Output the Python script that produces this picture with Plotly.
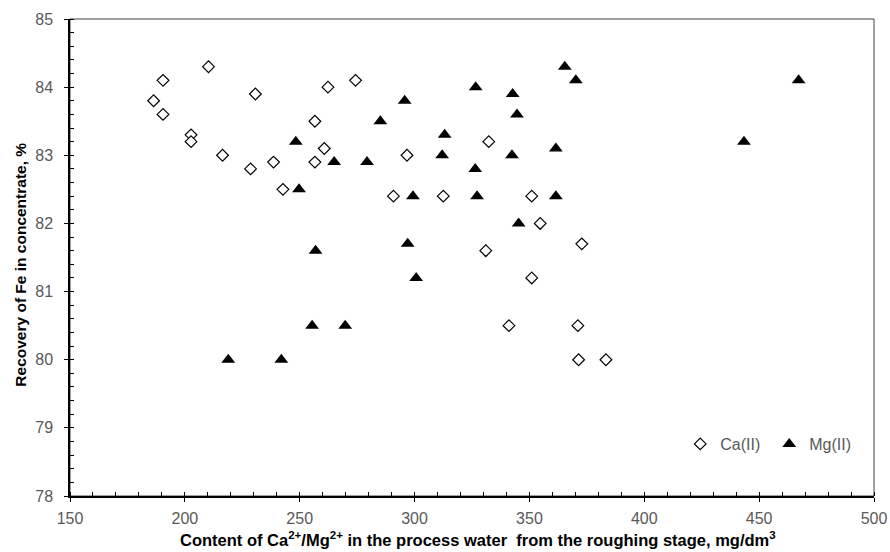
import plotly.graph_objects as go

# Ca(II) series
ca_x = [186.4, 190.5, 190.5, 202.7, 202.7, 210.3, 216.4, 228.6, 230.7, 238.6,
        242.7, 256.6, 256.6, 260.7, 262.3, 274.3, 290.8, 296.7, 312.5, 331.0,
        332.3, 341.1, 351.0, 351.0, 354.7, 371.1, 371.4, 372.8, 383.3]
ca_y = [83.8, 84.1, 83.6, 83.3, 83.2, 84.3, 83.0, 82.8, 83.9, 82.9,
        82.5, 83.5, 82.9, 83.1, 84.0, 84.1, 82.4, 83.0, 82.4, 81.6,
        83.2, 80.5, 82.4, 81.2, 82.0, 80.5, 80.0, 81.7, 80.0]

# Mg(II) series
mg_x = [218.9, 242.0, 248.3, 249.7, 255.4, 256.9, 265.0, 269.8, 279.3, 285.1,
        295.7, 297.0, 299.3, 300.7, 312.0, 313.1, 326.4, 326.6, 327.2, 342.4,
        342.7, 344.6, 345.3, 361.5, 361.5, 365.4, 370.2, 443.4, 467.2]
mg_y = [80.0, 80.0, 83.2, 82.5, 80.5, 81.6, 82.9, 80.5, 82.9, 83.5,
        83.8, 81.7, 82.4, 81.2, 83.0, 83.3, 82.8, 84.0, 82.4, 83.0,
        83.9, 83.6, 82.0, 83.1, 82.4, 84.3, 84.1, 83.2, 84.1]

x_title = "Content of Ca<sup>2+</sup>/Mg<sup>2+</sup> in the process water  from the roughing stage, mg/dm<sup>3</sup>"
y_title = "Recovery of Fe in concentrate, %"

FONT = "Liberation Sans, Arial, sans-serif"
GRAY = "#595959"

fig = go.Figure()
fig.add_trace(go.Scatter(
    x=ca_x, y=ca_y, mode="markers", name="Ca(II)",
    marker=dict(symbol="diamond", size=9, color="white",
                line=dict(color="black", width=1.2)),
))
fig.add_trace(go.Scatter(
    x=mg_x, y=mg_y, mode="markers", name="Mg(II)",
    marker=dict(symbol="triangle-up", size=12, color="black",
                line=dict(color="black", width=0)),
))

fig.update_layout(
    width=890, height=552,
    margin=dict(l=70, r=16, t=19, b=56),
    paper_bgcolor="white", plot_bgcolor="white",
    font=dict(family=FONT, color=GRAY, size=16),
    showlegend=True,
    legend=dict(orientation="h", x=0.759, y=0.109, xanchor="left", yanchor="middle",
                font=dict(family=FONT, size=16, color=GRAY),
                bgcolor="rgba(0,0,0,0)", entrywidth=44, itemwidth=30,
                tracegroupgap=0),
    xaxis=dict(range=[150, 500], tickmode="linear", tick0=150, dtick=50,
               ticks="outside", ticklen=4, tickwidth=1, tickcolor="black",
               minor=dict(ticks="inside", ticklen=4, tickwidth=1, tickcolor="black",
                          tick0=150, dtick=10, showgrid=False),
               showline=True, linecolor="black", linewidth=1.5,
               showgrid=False, zeroline=False, automargin=False,
               tickfont=dict(family=FONT, size=16, color=GRAY),
               ticklabelstandoff=3),
    yaxis=dict(range=[78, 85], tickmode="linear", tick0=78, dtick=1,
               ticks="outside", ticklen=4, tickwidth=1, tickcolor="black",
               minor=dict(ticks="inside", ticklen=4, tickwidth=1, tickcolor="black",
                          tick0=78, dtick=0.2, showgrid=False),
               showline=True, linecolor="black", linewidth=1.5,
               showgrid=False, zeroline=False, automargin=False,
               tickfont=dict(family=FONT, size=16, color=GRAY),
               ticklabelstandoff=8),
    shapes=[dict(type="rect", xref="paper", yref="paper", x0=0, x1=1, y0=0, y1=1,
                 line=dict(color="#404040", width=1), layer="below")],
    annotations=[
        dict(text="<b>" + x_title + "</b>", xref="paper", yref="paper",
             x=0.508, y=-0.09, xanchor="center", yanchor="middle", showarrow=False,
             font=dict(family=FONT, size=16.5, color="black")),
        dict(text="<b>" + y_title + "</b>", xref="paper", yref="paper",
             x=-0.0615, y=0.484, xanchor="center", yanchor="middle", showarrow=False,
             textangle=-90, font=dict(family=FONT, size=15.5, color="black")),
    ],
)

fig.write_html("out.html", config={"displayModeBar": False},
               post_script="document.body.style.margin='0px';")
